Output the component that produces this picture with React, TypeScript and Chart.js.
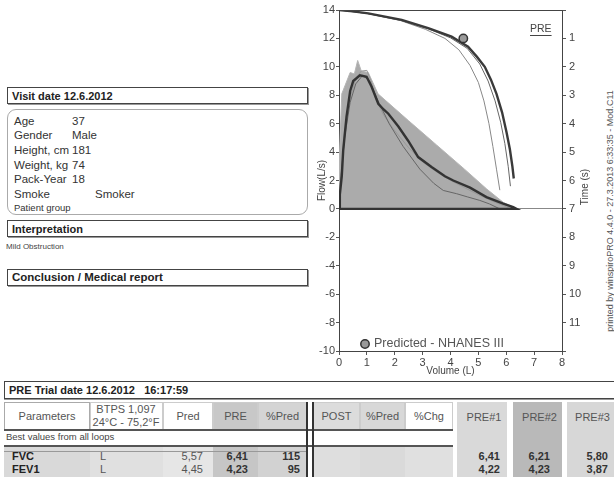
import React, { useEffect, useRef } from 'react';
import { Chart, registerables } from 'chart.js';

Chart.register(...registerables);

const FONT = '"Liberation Sans", Arial, Helvetica, sans-serif';

// ---- Flow-volume data (Volume L, Flow L/s) ----
const predAreaVol = [0, 0.02, 0.1, 0.4, 0.55, 0.67, 0.8, 1.05, 1.4, 2.5, 3.5, 4.5, 5.3, 5.9, 6.4];
const predAreaFlow = [0, 4.0, 8.1, 9.6, 9.5, 10.45, 9.7, 9.6, 8.1, 6.2, 4.5, 2.8, 1.4, 0.45, 0];

const pre1Vol = [0, 0.03, 0.1, 0.15, 0.27, 0.4, 0.51, 0.75, 0.99, 1.17, 1.41, 1.6, 1.77, 2.13, 2.48, 2.84, 3.32, 3.8, 4.1, 4.7, 5.29, 5.89, 6.25, 6.37, 0];
const pre1Flow = [0, 1.0, 2.3, 4.1, 6.5, 8.3, 9.0, 9.4, 9.3, 8.6, 7.4, 7.0, 6.7, 5.8, 4.8, 3.65, 2.95, 2.3, 2.0, 1.5, 0.83, 0.37, 0.13, 0, 0];

const pre2Vol = [0, 0.05, 0.2, 0.4, 0.6, 0.8, 1.0, 1.15, 1.3, 1.6, 2.0, 2.5, 3.0, 3.5, 4.0, 4.5, 5.0, 5.5, 6.0, 6.2];
const pre2Flow = [0, 2.0, 5.5, 7.8, 9.2, 9.7, 9.75, 9.0, 7.8, 6.6, 5.5, 4.3, 3.3, 2.6, 2.0, 1.5, 1.0, 0.55, 0.15, 0];

const pre3Vol = [0, 0.05, 0.2, 0.4, 0.6, 0.85, 1.1, 1.4, 1.8, 2.3, 2.9, 3.4, 3.74, 4.22, 4.6, 5.05, 5.4, 5.77];
const pre3Flow = [0, 1.8, 5.0, 7.5, 8.8, 9.4, 9.0, 7.6, 6.0, 4.4, 2.8, 1.8, 1.3, 1.07, 0.85, 0.6, 0.35, 0];

// ---- Volume-time data (Volume L, Time s) ----
const vt1Vol = [0, 0.5, 1.05, 2.25, 3.2, 4.04, 4.63, 4.95, 5.23, 5.45, 5.65, 5.85, 6.01, 6.13, 6.22, 6.27];
const vt1Time = [0, 0.05, 0.12, 0.35, 0.64, 0.94, 1.29, 1.65, 2.0, 2.45, 2.95, 3.6, 4.3, 4.9, 5.5, 5.93];

const vt2Vol = [0, 1.0, 2.2, 3.2, 4.0, 4.6, 5.05, 5.35, 5.6, 5.8, 5.95, 6.07, 6.15];
const vt2Time = [0, 0.12, 0.36, 0.66, 0.98, 1.35, 1.9, 2.5, 3.2, 3.95, 4.7, 5.5, 6.2];

const vt3Vol = [0, 1.0, 2.2, 3.1, 3.8, 4.3, 4.7, 5.0, 5.2, 5.38, 5.52, 5.65, 5.77];
const vt3Time = [0, 0.12, 0.37, 0.68, 1.0, 1.4, 1.95, 2.55, 3.2, 4.0, 4.8, 5.6, 6.34];

const predictedPointVol = [4.46];
const predictedPointFlow = [12.0];

// ---- Table data ----
const headerCols = ['Pred', 'PRE', '%Pred', 'POST', '%Pred', '%Chg'];
const trialCols = ['PRE#1', 'PRE#2', 'PRE#3'];
const paramNames = ['FVC', 'FEV1'];
const paramUnits = ['L', 'L'];
const predValues = ['5,57', '4,45'];
const preValues = ['6,41', '4,23'];
const pctPredValues = ['115', '95'];
const pre1Values = ['6,41', '4,22'];
const pre2Values = ['6,21', '4,23'];
const pre3Values = ['5,80', '3,87'];

const patientLabels = ['Age', 'Gender', 'Height, cm', 'Weight, kg', 'Pack-Year'];
const patientValues = ['37', 'Male', '181', '74', '18'];

const pts = (xs: number[], ys: number[]) => xs.map((x, i) => ({ x, y: ys[i] }));

function Txt(props: any) {
  const { x, y, text, size = 11, bold = false, align = 'left', color = '#333' } = props;
  const h = Math.round(size * 1.3);
  let left = x;
  let width: any = undefined;
  if (align === 'center') { left = x - 100; width = 200; }
  if (align === 'right') { left = x - 200; width = 200; }
  return (
    <div style={{ position: 'absolute', left, top: y - h / 2, width, height: h, lineHeight: h + 'px', fontSize: size, fontWeight: bold ? 700 : 400, textAlign: align, whiteSpace: 'pre', color }}>{text}</div>
  );
}

function Box(props: any) {
  const { x, y, w, h, bg = 'transparent', border, radius = 0, shadow } = props;
  return <div style={{ position: 'absolute', left: x, top: y, width: w, height: h, background: bg, border, borderRadius: radius, boxSizing: 'border-box', boxShadow: shadow }} />;
}

const overlayPlugin = {
  id: 'overlay',
  afterDatasetsDraw(chart: any) {
    const { ctx, chartArea } = chart;
    ctx.save();
    // frame top
    ctx.strokeStyle = '#444';
    ctx.lineWidth = 1;
    ctx.beginPath();
    ctx.moveTo(chartArea.left, chartArea.top + 0.5);
    ctx.lineTo(chartArea.right, chartArea.top + 0.5);
    ctx.stroke();
    // PRE label
    ctx.fillStyle = '#444';
    ctx.font = '10.5px ' + FONT;
    ctx.textBaseline = 'middle';
    ctx.textAlign = 'left';
    ctx.fillText('PRE', 230, 29);
    const w = ctx.measureText('PRE').width;
    ctx.beginPath();
    ctx.moveTo(230, 35.5);
    ctx.lineTo(230 + w, 35.5);
    ctx.stroke();
    // legend
    ctx.beginPath();
    ctx.arc(65, 344, 4.2, 0, Math.PI * 2);
    ctx.fillStyle = '#999';
    ctx.fill();
    ctx.lineWidth = 1.5;
    ctx.strokeStyle = '#333';
    ctx.stroke();
    ctx.fillStyle = '#555';
    ctx.font = '12.5px ' + FONT;
    ctx.fillText('Predicted - NHANES III', 74, 344);
    // right title
    ctx.translate(285, 187);
    ctx.rotate(-Math.PI / 2);
    ctx.textAlign = 'center';
    ctx.font = '10px ' + FONT;
    ctx.fillStyle = '#444';
    ctx.fillText('Time (s)', 0, 0);
    ctx.restore();
  },
};

function FlowChart() {
  const ref = useRef<HTMLCanvasElement>(null);
  useEffect(() => {
    if (!ref.current) return;
    const tickFont = { family: FONT, size: 11 };
    const chart = new Chart(ref.current, {
      type: 'line',
      data: {
        datasets: [
          { data: pts(predictedPointVol, predictedPointFlow), showLine: false, pointRadius: 4.2, pointBackgroundColor: '#9a9a9a', pointBorderColor: '#333', pointBorderWidth: 1.5, yAxisID: 'y', order: 0 } as any,
          { data: pts(vt1Vol, vt1Time), borderColor: '#3a3a3a', borderWidth: 2.4, yAxisID: 'yT', fill: false, order: 1 },
          { data: pts(vt2Vol, vt2Time), borderColor: '#666', borderWidth: 1, yAxisID: 'yT', fill: false, order: 2 },
          { data: pts(vt3Vol, vt3Time), borderColor: '#888', borderWidth: 1, yAxisID: 'yT', fill: false, order: 3 },
          { data: pts(pre1Vol, pre1Flow), borderColor: '#333', borderWidth: 2.4, yAxisID: 'y', fill: false, order: 1 },
          { data: pts(pre3Vol, pre3Flow), borderColor: '#666', borderWidth: 1, yAxisID: 'y', fill: false, order: 4 },
          { data: pts(pre2Vol, pre2Flow), borderColor: '#999', borderWidth: 1, yAxisID: 'y', fill: false, order: 5 },
          { data: pts(predAreaVol, predAreaFlow), borderColor: '#b5b5b5', borderWidth: 1, backgroundColor: '#ababab', yAxisID: 'y', fill: 'origin', order: 10 },
        ],
      },
      options: {
        animation: false,
        responsive: false,
        maintainAspectRatio: false,
        layout: { padding: { top: 10, left: 0, right: 0, bottom: 0 } },
        plugins: { legend: { display: false }, tooltip: { enabled: false } },
        elements: { point: { radius: 0 }, line: { tension: 0 } },
        scales: {
          x: {
            type: 'linear', min: 0, max: 8,
            ticks: { stepSize: 1, font: tickFont, color: '#444', padding: 1 },
            grid: { drawOnChartArea: false, tickLength: 4, color: '#555' },
            border: { color: '#444', width: 1 },
            title: { display: true, text: 'Volume (L)', font: { family: FONT, size: 10 }, color: '#444', padding: { top: 0, bottom: 1 } },
            afterFit: (s: any) => { s.height = 27; },
          },
          y: {
            type: 'linear', position: 'left', min: -10, max: 14,
            ticks: { stepSize: 2, font: tickFont, color: '#444', padding: 1 },
            grid: { color: (c: any) => (c.tick && c.tick.value === 0 ? '#888' : 'transparent'), tickColor: '#555', tickLength: 3 },
            border: { color: '#444', width: 1 },
            title: { display: true, text: 'Flow(L/s)', font: { family: FONT, size: 10 }, color: '#444', padding: { top: 16, bottom: 0 } },
            afterFit: (s: any) => { s.width = 39; },
          },
          yT: {
            type: 'linear', position: 'right', min: 0, max: 12, reverse: true,
            ticks: { stepSize: 1, font: tickFont, color: '#444', padding: 3, callback: (v: any) => (v === 0 || v === 12 ? '' : String(v)) },
            grid: { drawOnChartArea: false, tickLength: 4, color: '#555' },
            border: { color: '#444', width: 1 },
            afterFit: (s: any) => { s.width = 38; },
          },
        },
      } as any,
      plugins: [overlayPlugin],
    });
    return () => chart.destroy();
  }, []);
  return <canvas ref={ref} width={300} height={378} style={{ position: 'absolute', left: 300, top: 0, width: 300, height: 378 }} />;
}

export default function App() {
  const rowY = [456, 469];
  const hdrBoxes = [
    { x: 163, w: 50, bg: '#fff' },
    { x: 213, w: 45, bg: '#c8c8c8' },
    { x: 258, w: 49, bg: '#d4d4d4' },
    { x: 313, w: 47, bg: '#dcdcdc' },
    { x: 360, w: 45, bg: '#d8d8d8' },
    { x: 405, w: 48, bg: '#fff' },
  ];
  const dataBgs = [
    { x: 4, w: 86, bg: '#d9d9d9' },
    { x: 90, w: 73, bg: '#e0e0e0' },
    { x: 163, w: 50, bg: '#e6e6e6' },
    { x: 213, w: 45, bg: '#c6c6c6' },
    { x: 258, w: 49, bg: '#d2d2d2' },
    { x: 313, w: 47, bg: '#dedede' },
    { x: 360, w: 45, bg: '#dadada' },
    { x: 405, w: 48, bg: '#e0e0e0' },
  ];
  const trialBoxes = [
    { x: 457, w: 50, bg: '#d9d9d9', vals: pre1Values, right: 500 },
    { x: 513, w: 49, bg: '#b9b9b9', vals: pre2Values, right: 550 },
    { x: 567, w: 47, bg: '#d7d7d7', vals: pre3Values, right: 608 },
  ];
  return (
    <div style={{ position: 'absolute', left: 0, top: 0, width: 614, height: 477, overflow: 'hidden', background: '#fff', fontFamily: FONT, color: '#333' }}>
      {/* Left panel */}
      <Box x={7} y={87} w={301} h={17} border="1px solid #444" shadow="1px 1px 0 #999" />
      <Txt x={12} y={95.5} text="Visit date 12.6.2012" bold size={11} color="#222" />
      <Box x={7} y={109} w={301} h={106} border="1px solid #aaa" radius={9} />
      {patientLabels.map((l, i) => (
        <React.Fragment key={l}>
          <Txt x={14} y={121 + i * 14.7} text={l} size={11.5} color="#333" />
          <Txt x={72} y={121 + i * 14.7} text={patientValues[i]} size={11.5} color="#333" />
        </React.Fragment>
      ))}
      <Txt x={14} y={194.5} text="Smoke" size={11.5} color="#333" />
      <Txt x={95} y={194.5} text="Smoker" size={11.5} color="#333" />
      <Txt x={14} y={208} text="Patient group" size={9.5} color="#333" />
      <Box x={7} y={220} w={301} h={17} border="1px solid #444" shadow="1px 1px 0 #999" />
      <Txt x={12} y={228.5} text="Interpretation" bold size={11} color="#222" />
      <Txt x={6} y={247} text="Mild Obstruction" size={8} color="#444" />
      <Box x={7} y={269} w={301} h={17} border="1px solid #444" shadow="1px 1px 0 #999" />
      <Txt x={12} y={277.5} text="Conclusion / Medical report" bold size={11.5} color="#222" />

      {/* Chart */}
      <FlowChart />

      {/* Side printed text */}
      <div style={{ position: 'absolute', left: 460, top: 205, width: 300, height: 12, lineHeight: '12px', fontSize: 9, color: '#555', textAlign: 'center', transform: 'rotate(-90deg)', whiteSpace: 'nowrap' }}>
        printed by winspiroPRO 4.4.0 - 27.3.2013 6:33:35 - Mod.C11
      </div>

      {/* Table */}
      <Box x={4} y={381} w={620} h={18} border="1px solid #444" shadow="0 1px 0 #999" />
      <Txt x={9} y={389.5} text="PRE Trial date 12.6.2012   16:17:59" bold size={11} color="#222" />

      {dataBgs.map((d, i) => <Box key={'db' + i} x={d.x} y={447} w={d.w} h={30} bg={d.bg} />)}
      {trialBoxes.map((t, i) => <Box key={'tb' + i} x={t.x} y={402} w={t.w} h={75} bg={t.bg} />)}

      <Box x={4} y={402} w={86} h={28} bg="#fff" border="1px solid #aaa" />
      <Box x={90} y={402} w={73} h={28} bg="#fff" border="1px solid #ccc" />
      {hdrBoxes.map((b, i) => <Box key={'hb' + i} x={b.x} y={402} w={b.w} h={28} bg={b.bg} border="1px solid #ccc" />)}
      <Box x={4} y={430} w={449} h={16} bg="#fff" />
      <Box x={4} y={429} w={449} h={1.5} bg="#555" />
      <Box x={4} y={445} w={449} h={1.5} bg="#555" />
      <Box x={4} y={451} w={303} h={1} bg="#999" />
      <Box x={306} y={402} w={1.5} h={75} bg="#333" />
      <Box x={312} y={402} w={1.5} h={75} bg="#333" />

      <Txt x={47} y={416} text="Parameters" size={11} align="center" color="#555" />
      <Txt x={126} y={409} text="BTPS 1,097" size={11} align="center" color="#555" />
      <Txt x={126} y={421.5} text="24°C - 75,2°F" size={11} align="center" color="#555" />
      {headerCols.map((h, i) => (
        <Txt key={'h' + i} x={hdrBoxes[i].x + hdrBoxes[i].w / 2} y={416} text={h} size={11} align="center" color="#555" />
      ))}
      {trialCols.map((h, i) => (
        <Txt key={'t' + i} x={trialBoxes[i].x + trialBoxes[i].w / 2 + 2} y={417} text={h} size={11} align="center" color="#555" />
      ))}
      <Txt x={6} y={437} text="Best values from all loops" size={9.5} color="#444" />

      {paramNames.map((p, i) => (
        <React.Fragment key={p}>
          <Txt x={12} y={rowY[i]} text={p} bold size={11} color="#222" />
          <Txt x={100} y={rowY[i]} text={paramUnits[i]} size={11} color="#555" />
          <Txt x={203} y={rowY[i]} text={predValues[i]} size={11} align="right" color="#555" />
          <Txt x={248} y={rowY[i]} text={preValues[i]} bold size={11} align="right" color="#333" />
          <Txt x={300} y={rowY[i]} text={pctPredValues[i]} bold size={11} align="right" color="#333" />
          {trialBoxes.map((t, j) => (
            <Txt key={'v' + j} x={t.right} y={rowY[i]} text={t.vals[i]} bold size={11} align="right" color="#333" />
          ))}
        </React.Fragment>
      ))}
    </div>
  );
}
